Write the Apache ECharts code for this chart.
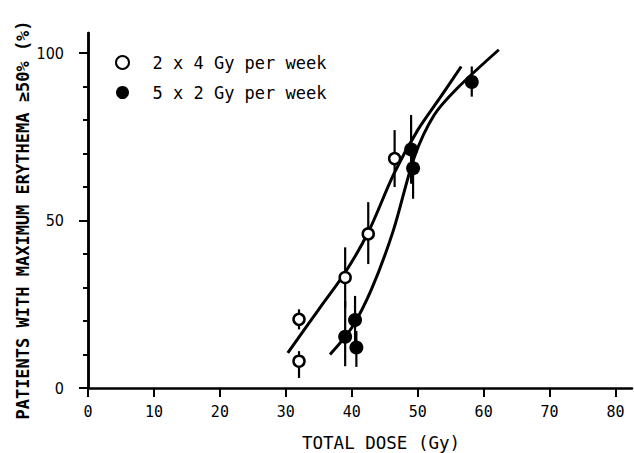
<!DOCTYPE html>
<html>
<head>
<meta charset="utf-8">
<script src="https://cdn.jsdelivr.net/npm/echarts@6/dist/echarts.min.js"></script>
<style>
html,body{margin:0;padding:0;background:#fff;}
#chart{width:634px;height:453px;}
</style>
</head>
<body>
<div id="chart"></div>
<script>
// ---- data ----
const xTickValues = [0, 10, 20, 30, 40, 50, 60, 70, 80];
const yMajorTicks = [0, 50, 100];
const yMinorTicks = [10, 20, 30, 40, 60, 70, 80, 90];

const seriesNames = ['2 x 4 Gy per week', '5 x 2 Gy per week'];

// 2 x 4 Gy per week (open circles)
const openDose = [32, 32, 39, 42.5, 46.5];
const openPct = [20.5, 8, 33, 46, 68.5];
const openLow = [17.5, 3, 24, 37, 60];
const openHigh = [23.5, 11, 42, 55.5, 77];

// 5 x 2 Gy per week (filled circles)
const filledDose = [39, 40.5, 40.7, 49, 49.3, 58.2];
const filledPct = [15.3, 20.3, 12.1, 71.2, 65.6, 91.4];
const filledLow = [6.5, 14, 6.3, 61, 56.5, 87];
const filledHigh = [26, 27.5, 17, 81.5, 72, 96];

// fitted curves
const openCurveDose = [30.3, 35, 39, 42.5, 46.4, 50, 53.5, 56.6];
const openCurvePct = [10.5, 23.5, 34.5, 46.5, 64, 77, 87, 96];
const filledCurveDose = [36.7, 40, 43, 46.3, 49.5, 52.5, 56, 62.3];
const filledCurvePct = [10, 18, 29.5, 47, 69, 81.5, 89.5, 101];

const xTitle = 'TOTAL DOSE (Gy)';
const yTitle = 'PATIENTS WITH MAXIMUM ERYTHEMA \u226550% (%)';

// ---- build ----
const zip = (a, b) => a.map((v, i) => [v, b[i]]);
const zip3 = (a, b, c) => a.map((v, i) => [v, b[i], c[i]]);

const mono = '"DejaVu Sans Mono", "Liberation Mono", monospace';
const narrow = '"Liberation Sans Narrow", "DejaVu Sans Condensed", "Liberation Sans", sans-serif';

function errRender(params, api) {
  const p1 = api.coord([api.value(0), api.value(1)]);
  const p2 = api.coord([api.value(0), api.value(2)]);
  return {
    type: 'line',
    shape: { x1: p1[0], y1: p1[1], x2: p2[0], y2: p2[1] },
    style: { stroke: '#000', lineWidth: 2.2 }
  };
}

const chart = echarts.init(document.getElementById('chart'), null, { renderer: 'svg' });
chart.setOption({
  backgroundColor: '#fff',
  animation: false,
  grid: { left: 88, right: 2, top: 33, bottom: 65, containLabel: false },
  xAxis: {
    type: 'value', min: 0, max: 82.5,
    splitLine: { show: false },
    axisLine: { show: true, lineStyle: { color: '#000', width: 2.5 } },
    axisTick: { show: true, length: 9, inside: false, customValues: xTickValues, lineStyle: { color: '#000', width: 2 } },
    axisLabel: { customValues: xTickValues, margin: 16, color: '#000', fontFamily: mono, fontSize: 15 }
  },
  yAxis: [
    {
      type: 'value', min: 0, max: 106, position: 'left',
      splitLine: { show: false },
      axisLine: { show: true, onZero: false, lineStyle: { color: '#000', width: 2.5 } },
      axisTick: { show: true, length: 9, customValues: yMajorTicks, lineStyle: { color: '#000', width: 2 } },
      axisLabel: { customValues: yMajorTicks, margin: 12, padding: [0, 12, 0, 0], align: 'right', color: '#000', fontFamily: narrow, fontSize: 16 }
    },
    {
      type: 'value', min: 0, max: 106, position: 'left', offset: 0,
      splitLine: { show: false },
      axisLine: { show: true, onZero: false, lineStyle: { color: '#000', width: 2.5 } },
      axisTick: { show: true, length: 5, customValues: yMinorTicks, lineStyle: { color: '#000', width: 2 } },
      axisLabel: { show: false }
    }
  ],
  legend: {
    orient: 'vertical', left: 110, top: 49,
    itemWidth: 50, itemHeight: 13, itemGap: 13,
    data: seriesNames,
    textStyle: { color: '#000', fontFamily: mono, fontSize: 17, lineHeight: 13 }
  },
  graphic: [
    { type: 'text', x: 381, y: 443, style: { text: xTitle, fill: '#000', font: '17.5px ' + mono, textAlign: 'center', textVerticalAlign: 'middle' } },
    { type: 'text', x: 23, y: 220, rotation: Math.PI / 2, style: { text: yTitle, fill: '#000', font: 'bold 17px ' + mono, textAlign: 'center', textVerticalAlign: 'middle' } }
  ],
  series: [
    {
      type: 'line', data: zip(openCurveDose, openCurvePct), smooth: 0.3, showSymbol: false, symbol: 'none',
      lineStyle: { color: '#000', width: 3 }, silent: true, z: 2
    },
    {
      type: 'line', data: zip(filledCurveDose, filledCurvePct), smooth: 0.3, showSymbol: false, symbol: 'none',
      lineStyle: { color: '#000', width: 3 }, silent: true, z: 2
    },
    { type: 'custom', renderItem: errRender, data: zip3(openDose, openLow, openHigh), encode: { x: 0, y: [1, 2] }, z: 3 },
    { type: 'custom', renderItem: errRender, data: zip3(filledDose, filledLow, filledHigh), encode: { x: 0, y: [1, 2] }, z: 3 },
    {
      name: seriesNames[0], type: 'scatter', data: zip(openDose, openPct), symbol: 'circle', symbolSize: 11,
      itemStyle: { color: '#fff', borderColor: '#000', borderWidth: 2.5, opacity: 1 }, z: 5
    },
    {
      name: seriesNames[1], type: 'scatter', data: zip(filledDose, filledPct), symbol: 'circle', symbolSize: 14,
      itemStyle: { color: '#000', borderColor: '#000', borderWidth: 0, opacity: 1 }, z: 5
    }
  ]
});
</script>
</body>
</html>
